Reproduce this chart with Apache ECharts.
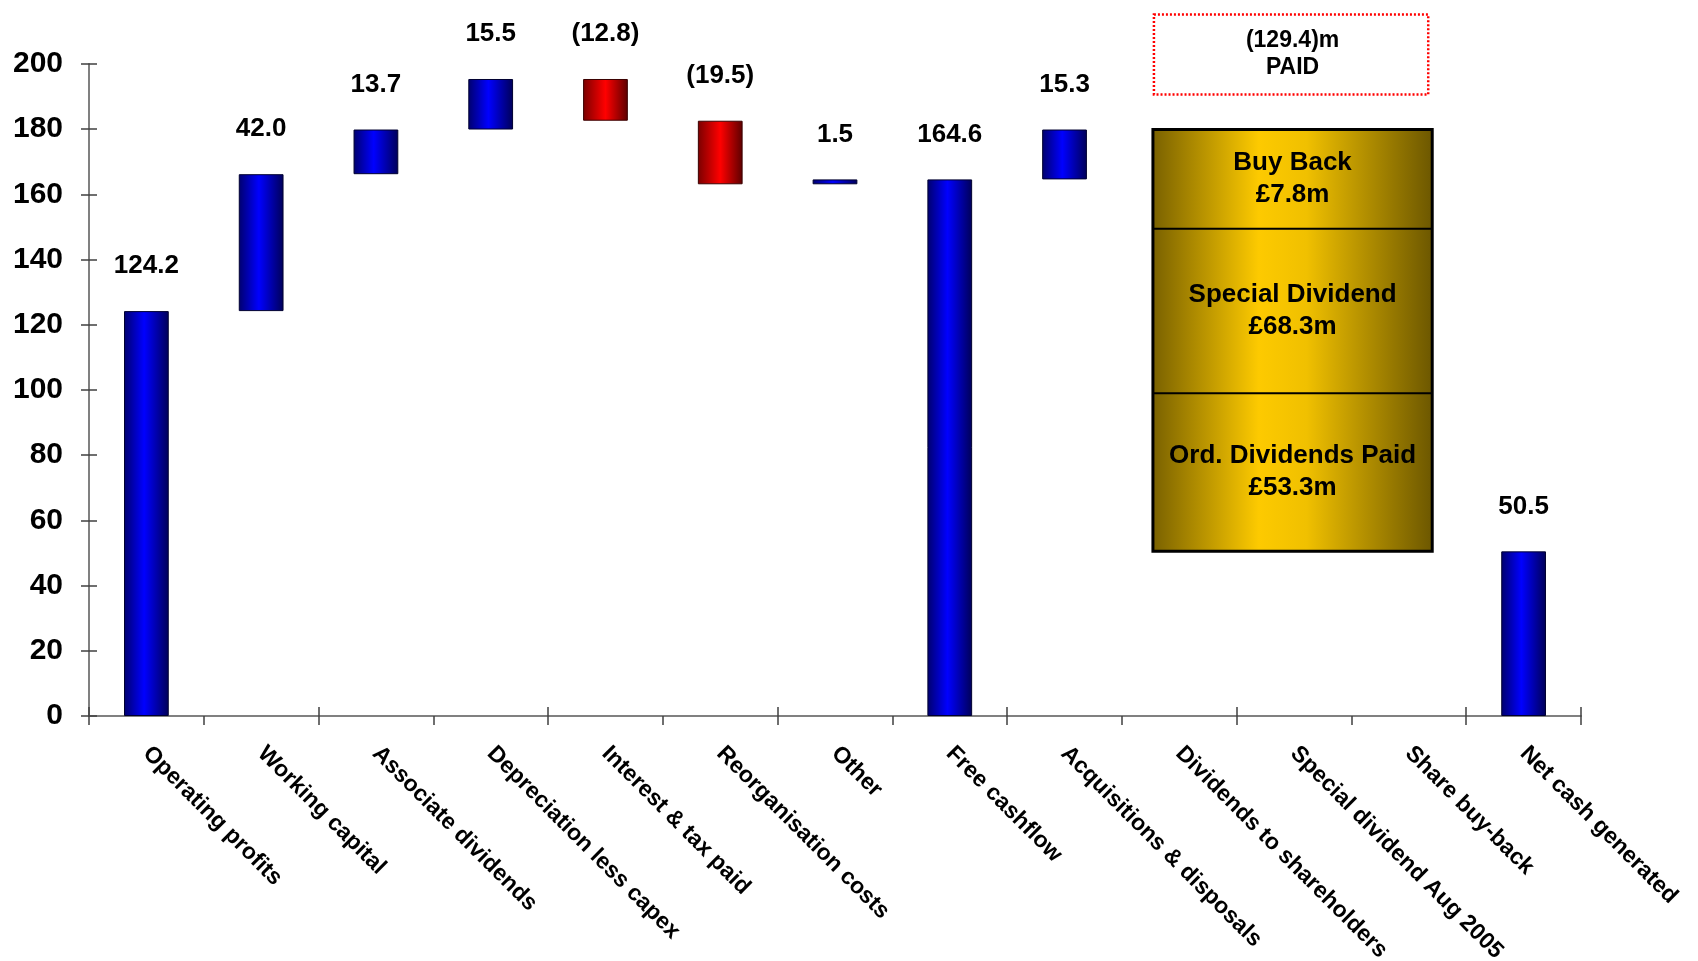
<!DOCTYPE html>
<html>
<head>
<meta charset="utf-8">
<script src="https://cdn.jsdelivr.net/npm/echarts@6/dist/echarts.min.js"></script>
<style>
  html, body { margin: 0; padding: 0; background: #ffffff; }
  #chart { width: 1698px; height: 961px; }
</style>
</head>
<body>
<div id="chart"></div>
<script>
// Cash flow bridge (£m)
const categories = [
  'Operating profits', 'Working capital', 'Associate dividends', 'Depreciation less capex',
  'Interest & tax paid', 'Reorganisation costs', 'Other', 'Free cashflow',
  'Acquisitions & disposals', 'Dividends to shareholders', 'Special dividend Aug 2005',
  'Share buy-back', 'Net cash generated'
];
// Movement for each step; subtotal steps restart from zero
const movements = [124.2, 42.0, 13.7, 15.5, -12.8, -19.5, 1.5, 164.6, 15.3, -53.3, -68.3, -7.8, 50.5];
const isSubtotal = [true, false, false, false, false, false, false, true, false, false, false, false, true];

// Payments to shareholders, shown together in one panel
const payoutIndex = [9, 10, 11];
const payoutTitles = ['Ord. Dividends Paid', 'Special Dividend', 'Buy Back'];
const payoutAmounts = [53.3, 68.3, 7.8];

const yTicks = [0, 20, 40, 60, 80, 100, 120, 140, 160, 180, 200];

// ---- running totals for the bridge ----
const baseVals = [];
const sizeVals = [];
let running = 0;
const startAt = [], endAt = [];
movements.forEach((m, i) => {
  const start = isSubtotal[i] ? 0 : running;
  const end = isSubtotal[i] ? m : running + m;
  startAt.push(start); endAt.push(end);
  running = end;
  if (payoutIndex.indexOf(i) >= 0) {
    baseVals.push('-'); sizeVals.push('-');
  } else {
    baseVals.push(+Math.min(start, end).toFixed(1));
    sizeVals.push(+Math.abs(end - start).toFixed(1));
  }
});
const panelTop = +startAt[payoutIndex[0]].toFixed(1);
const panelBottom = +endAt[payoutIndex[payoutIndex.length - 1]].toFixed(1);
const panelTotal = payoutAmounts.reduce((a, b) => a + b, 0);

const fmt = v => v < 0 ? '(' + Math.abs(v).toFixed(1) + ')' : v.toFixed(1);
const FONT = '"Liberation Sans", Arial, sans-serif';

const blueFill = new echarts.graphic.LinearGradient(0, 0, 1, 0, [
  { offset: 0, color: '#00006e' }, { offset: 0.45, color: '#0000ff' }, { offset: 1, color: '#000058' }
]);
const redFill = new echarts.graphic.LinearGradient(0, 0, 1, 0, [
  { offset: 0, color: '#7a0000' }, { offset: 0.5, color: '#ff0000' }, { offset: 1, color: '#5c0000' }
]);
const goldFill = new echarts.graphic.LinearGradient(0, 0, 1, 0, [
  { offset: 0, color: '#786000' }, { offset: 0.38, color: '#fdca00' }, { offset: 0.55, color: '#f0c000' }, { offset: 1, color: '#6b5600' }
]);

const BAR_SHARE = 0.39;

const chart = echarts.init(document.getElementById('chart'), null, { renderer: 'canvas' });

chart.setOption({
  animation: false,
  backgroundColor: '#ffffff',
  grid: { left: 89, right: 117, top: 64, bottom: 245, containLabel: false, outerBoundsMode: 'none' },
  xAxis: [
    {
      type: 'category',
      data: categories,
      axisLine: { lineStyle: { color: '#808080', width: 2 } },
      axisTick: { show: true, length: 9, lineStyle: { color: '#404040', width: 1.5 } },
      axisLabel: {
        rotate: -45, margin: 34, interval: 0,
        fontFamily: FONT, fontSize: 23, fontWeight: 'bold', color: '#000'
      }
    },
    {
      type: 'category',
      data: categories,
      position: 'bottom',
      axisLine: { show: false },
      axisTick: { show: true, inside: true, length: 9, lineStyle: { color: '#404040', width: 1.5 } },
      axisLabel: { show: false }
    }
  ],
  yAxis: [
    {
      type: 'value', min: 0, max: 200, interval: 20,
      axisLine: { show: true, lineStyle: { color: '#808080', width: 2 } },
      axisTick: { show: true, length: 8, lineStyle: { color: '#404040', width: 1.5 } },
      splitLine: { show: false },
      axisLabel: {
        margin: 26, fontFamily: FONT, fontSize: 30, fontWeight: 'bold', color: '#000',
        formatter: v => yTicks.indexOf(v) >= 0 ? String(v) : ''
      }
    },
    {
      type: 'value', min: 0, max: 200, interval: 20, position: 'left',
      axisLine: { show: false },
      axisTick: { show: true, inside: true, length: 8, lineStyle: { color: '#404040', width: 1.5 } },
      splitLine: { show: false },
      axisLabel: { show: false }
    }
  ],
  series: [
    {
      name: 'base', type: 'bar', stack: 'bridge', silent: true,
      barWidth: (BAR_SHARE * 100) + '%',
      itemStyle: { color: 'rgba(0,0,0,0)' },
      data: baseVals
    },
    {
      name: 'movement', type: 'bar', stack: 'bridge',
      barWidth: (BAR_SHARE * 100) + '%',
      data: sizeVals.map((v, i) => v === '-' ? '-' : {
        value: v,
        itemStyle: {
          color: movements[i] < 0 ? redFill : blueFill,
          borderColor: movements[i] < 0 ? '#3a0000' : '#000030',
          borderWidth: 1
        }
      }),
      label: {
        show: true, position: 'top', distance: 32,
        fontFamily: FONT, fontSize: 26, fontWeight: 'bold', color: '#000',
        formatter: p => fmt(movements[p.dataIndex])
      }
    },
    {
      name: 'payouts', type: 'custom', clip: false,
      encode: { x: [0, 2], y: [1, 3] },
      data: [[payoutIndex[0], panelTop, payoutIndex[payoutIndex.length - 1], panelBottom]],
      renderItem: (params, api) => {
        const tl = api.coord([api.value(0), api.value(1)]);
        const br = api.coord([api.value(2), api.value(3)]);
        const half = api.size([1, 0])[0] * BAR_SHARE / 2;
        const x0 = tl[0] - half - 4, x1 = br[0] + half + 1;
        const y0 = tl[1], y1 = br[1];
        const w = x1 - x0, h = y1 - y0;
        const cx = (x0 + x1) / 2;
        // row heights of the panel, top row first
        const rows = [0.235, 0.39, 0.375];
        const children = [
          { type: 'rect', shape: { x: x0, y: y0, width: w, height: h },
            style: { fill: goldFill, stroke: '#000', lineWidth: 3 } }
        ];
        let y = y0;
        const order = payoutTitles.map((t, i) => i).reverse();
        order.forEach((k, r) => {
          const rh = h * rows[r];
          children.push({
            type: 'text',
            style: {
              text: payoutTitles[k] + '\n£' + payoutAmounts[k].toFixed(1) + 'm',
              x: cx, y: y + rh / 2, align: 'center', verticalAlign: 'middle',
              fontFamily: FONT, fontSize: 26, fontWeight: 'bold', fill: '#000', lineHeight: 32
            }
          });
          y += rh;
          if (r < rows.length - 1) {
            children.push({ type: 'line', shape: { x1: x0, y1: y, x2: x1, y2: y },
              style: { stroke: '#000', lineWidth: 2 } });
          }
        });
        // total paid, boxed above the panel
        const boxH = 80, gap = 35;
        children.push({
          type: 'rect',
          shape: { x: x0 + 1, y: y0 - gap - boxH, width: w - 5, height: boxH },
          style: { fill: 'none', stroke: '#ff0000', lineWidth: 2.5, lineDash: [2, 2] }
        });
        children.push({
          type: 'text',
          style: {
            text: '(' + panelTotal.toFixed(1) + ')m\nPAID',
            x: cx, y: y0 - gap - boxH / 2, align: 'center', verticalAlign: 'middle',
            fontFamily: FONT, fontSize: 23, fontWeight: 'bold', fill: '#000', lineHeight: 27
          }
        });
        return { type: 'group', children };
      }
    }
  ]
});
</script>
</body>
</html>
